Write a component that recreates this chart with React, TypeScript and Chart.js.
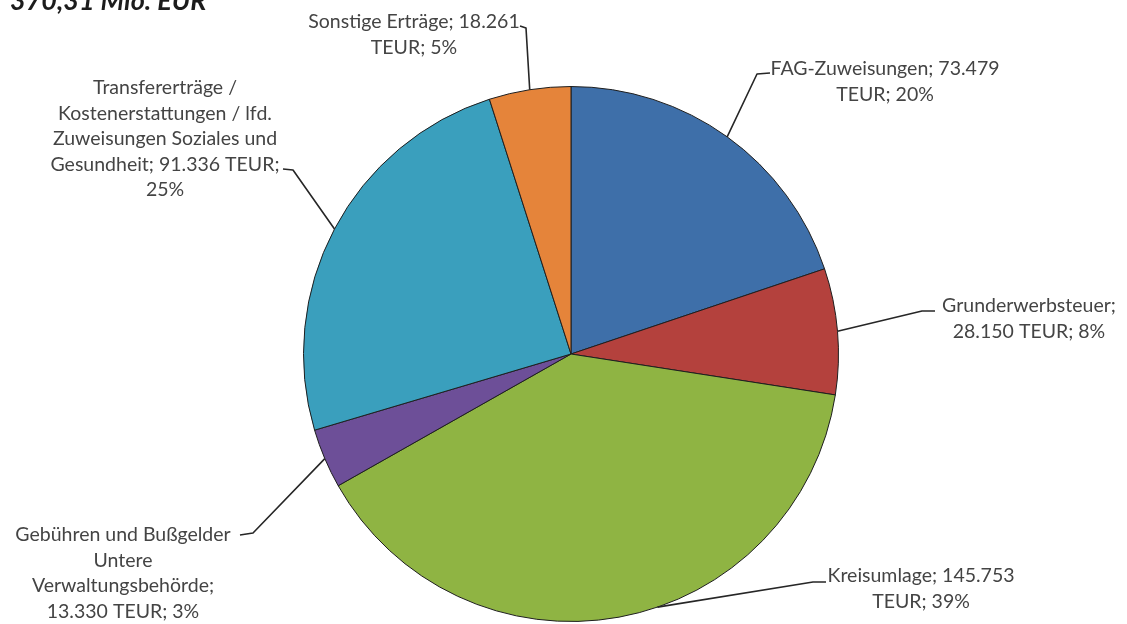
import React, { useEffect, useRef } from "react";
import { Chart, registerables } from "chart.js";

Chart.register(...registerables);

const categories = [
  "FAG-Zuweisungen",
  "Grunderwerbsteuer",
  "Kreisumlage",
  "Gebühren und Bußgelder Untere Verwaltungsbehörde",
  "Transfererträge / Kostenerstattungen / lfd. Zuweisungen Soziales und Gesundheit",
  "Sonstige Erträge",
];
const valuesTEUR = [73479, 28150, 145753, 13330, 91336, 18261];
const labelLines = [
  ["FAG-Zuweisungen; 73.479", "TEUR; 20%"],
  ["Grunderwerbsteuer;", "28.150 TEUR; 8%"],
  ["Kreisumlage; 145.753", "TEUR; 39%"],
  ["Gebühren und Bußgelder", "Untere", "Verwaltungsbehörde;", "13.330 TEUR; 3%"],
  ["Transfererträge /", "Kostenerstattungen / lfd.", "Zuweisungen Soziales und", "Gesundheit; 91.336 TEUR;", "25%"],
  ["Sonstige Erträge; 18.261", "TEUR; 5%"],
];
const titleText = "370,31 Mio. EUR";

const colors = ["#3e6fa9", "#b4413d", "#8fb443", "#6d4f98", "#3a9fbd", "#e5843a"];

// label layout (canvas px): text centre x, first line y, elbow point, end point of leader,
// and where along the slice (0..1) the leader attaches
const labelLayout = [
  { cx: 885, y: 69, elbow: [757, 74], end: [770, 73], at: 0.5 },
  { cx: 1029, y: 306, elbow: [922, 311], end: [935, 311], at: 0.5 },
  { cx: 921, y: 576, elbow: [813, 582], end: [826, 582], at: 0.44 },
  { cx: 123, y: 535, elbow: [253, 533], end: [240, 535], at: 0.5 },
  { cx: 165, y: 88, elbow: [293, 170], end: [283, 169], at: 0.5 },
  { cx: 414, y: 22, elbow: [526, 28], end: [520, 26], at: 0.5 },
];
const lineHeight = 25.5;

const labelPlugin = {
  id: "pieLabels",
  afterDraw(chart: any) {
    const ctx = chart.ctx;
    const meta = chart.getDatasetMeta(0);
    ctx.save();
    ctx.font = "italic bold 27px Lato";
    ctx.fillStyle = "#1c1c1c";
    ctx.textAlign = "left";
    ctx.textBaseline = "alphabetic";
    ctx.fillText(titleText, 10, 10);

    meta.data.forEach((arc: any, i: number) => {
      const p = arc.getProps(["x", "y", "startAngle", "endAngle", "outerRadius"], true);
      const L = labelLayout[i];
      const a = p.startAngle + (p.endAngle - p.startAngle) * L.at;
      const ax = p.x + Math.cos(a) * p.outerRadius;
      const ay = p.y + Math.sin(a) * p.outerRadius;
      ctx.beginPath();
      ctx.strokeStyle = "#262626";
      ctx.lineWidth = 1.6;
      ctx.lineJoin = "round";
      ctx.moveTo(ax, ay);
      ctx.lineTo(L.elbow[0], L.elbow[1]);
      ctx.lineTo(L.end[0], L.end[1]);
      ctx.stroke();

      ctx.font = "19.5px Lato";
      ctx.fillStyle = "#444444";
      ctx.textAlign = "center";
      ctx.textBaseline = "middle";
      labelLines[i].forEach((t, k) => {
        ctx.fillText(t, L.cx, L.y + k * lineHeight);
      });
    });
    ctx.restore();
  },
};

export default function App() {
  const ref = useRef<HTMLCanvasElement>(null);
  useEffect(() => {
    if (!ref.current) return;
    const chart = new Chart(ref.current, {
      type: "pie",
      data: {
        labels: categories,
        datasets: [
          {
            data: valuesTEUR,
            backgroundColor: colors,
            borderColor: "#1e1e1e",
            borderWidth: 1,
          },
        ],
      },
      options: {
        responsive: false,
        animation: false,
        layout: { padding: { top: 86, bottom: 2, left: 15, right: 0 } },
        plugins: {
          legend: { display: false },
          tooltip: { enabled: false },
          title: { display: false },
        },
      },
      plugins: [labelPlugin],
    });
    return () => chart.destroy();
  }, []);
  return (
    <div style={{ position: "absolute", left: 0, top: 0, width: 1127, height: 624, background: "#fff" }}>
      <canvas ref={ref} width={1127} height={624} />
    </div>
  );
}
